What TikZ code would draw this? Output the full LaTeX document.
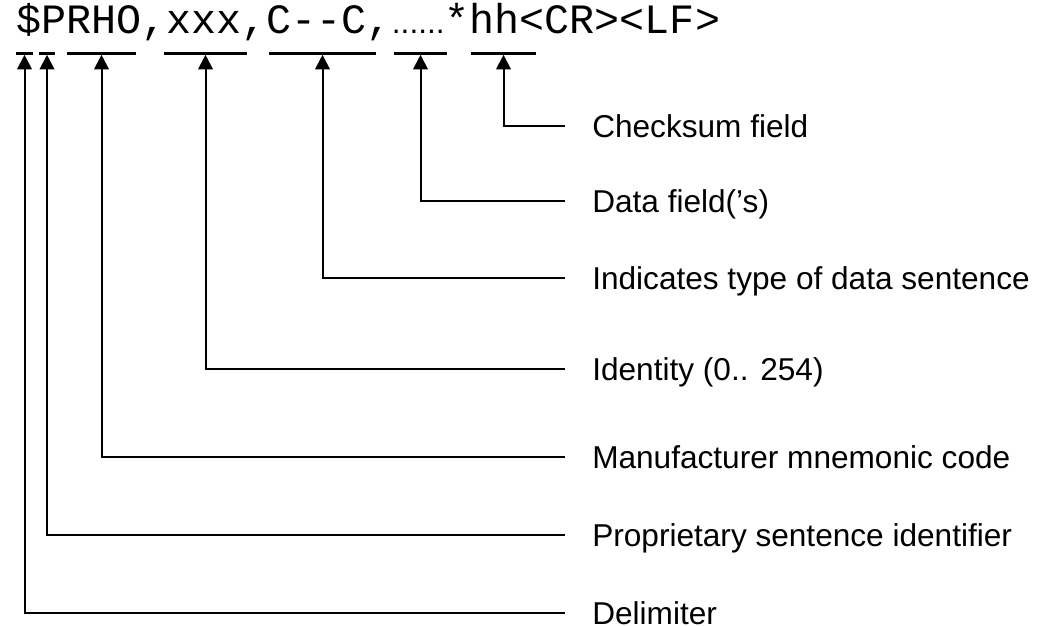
\documentclass[tikz,border=0pt]{standalone}
\usepackage{fontspec}
\setmainfont{Liberation Sans}
\newfontfamily\sentfont{Liberation Mono}
\usetikzlibrary{arrows.meta}

\tikzset{
  bar/.style={fill=black,inner sep=0pt,minimum height=2.25pt},
  pointer/.style={line width=1.5pt,-{Triangle[length=11pt,width=11pt]}},
  fieldlabel/.style={anchor=west,inner sep=0pt,text height=17pt,text depth=0pt,
    font=\fontsize{23.7pt}{28pt}\selectfont}
}

\begin{document}
\begin{tikzpicture}[x=0.75pt,y=-0.75pt]
  \useasboundingbox (0,0) rectangle (1037,625);
  % the sentence
  \node[anchor=base west,inner sep=0pt,font=\sentfont\fontsize{31.3pt}{36pt}\selectfont] (sent) at (16,33)
    {\$PRHO,xxx,C--C,{\rmfamily\fontsize{23.7pt}{28pt}\selectfont......}*hh<CR><LF>};
  % field bars
  \node[bar,minimum width=12.75pt] (bDelim) at (24.5,53) {};
  \node[bar,minimum width=12pt] (bProp) at (47,53) {};
  \node[bar,minimum width=51.75pt] (bMan) at (101.5,53) {};
  \node[bar,minimum width=62.25pt] (bId) at (205.5,53) {};
  \node[bar,minimum width=80.25pt] (bType) at (322.5,53) {};
  \node[bar,minimum width=39.75pt] (bData) at (420.5,53) {};
  \node[bar,minimum width=48.75pt] (bSum) at (503.5,53) {};
  % labels
  \node[fieldlabel] (lSum) at (592,126) {Checksum field};
  \node[fieldlabel] (lData) at (592,201) {Data field(’s)};
  \node[fieldlabel] (lType) at (592,278) {Indicates type of data sentence};
  \node[fieldlabel] (lId) at (592,369) {Identity (0.. 254)};
  \node[fieldlabel] (lMan) at (592,457) {Manufacturer mnemonic code};
  \node[fieldlabel] (lProp) at (592,535) {Proprietary sentence identifier};
  \node[fieldlabel] (lDelim) at (592,613) {Delimiter};
  % pointers
  \draw[pointer] (lSum.west) ++(-27,0) -| (bSum.south);
  \draw[pointer] (lData.west) ++(-27,0) -| (bData.south);
  \draw[pointer] (lType.west) ++(-27,0) -| (bType.south);
  \draw[pointer] (lId.west) ++(-27,0) -| (bId.south);
  \draw[pointer] (lMan.west) ++(-27,0) -| (bMan.south);
  \draw[pointer] (lProp.west) ++(-27,0) -| (bProp.south);
  \draw[pointer] (lDelim.west) ++(-27,0) -| (bDelim.south);
\end{tikzpicture}
\end{document}
